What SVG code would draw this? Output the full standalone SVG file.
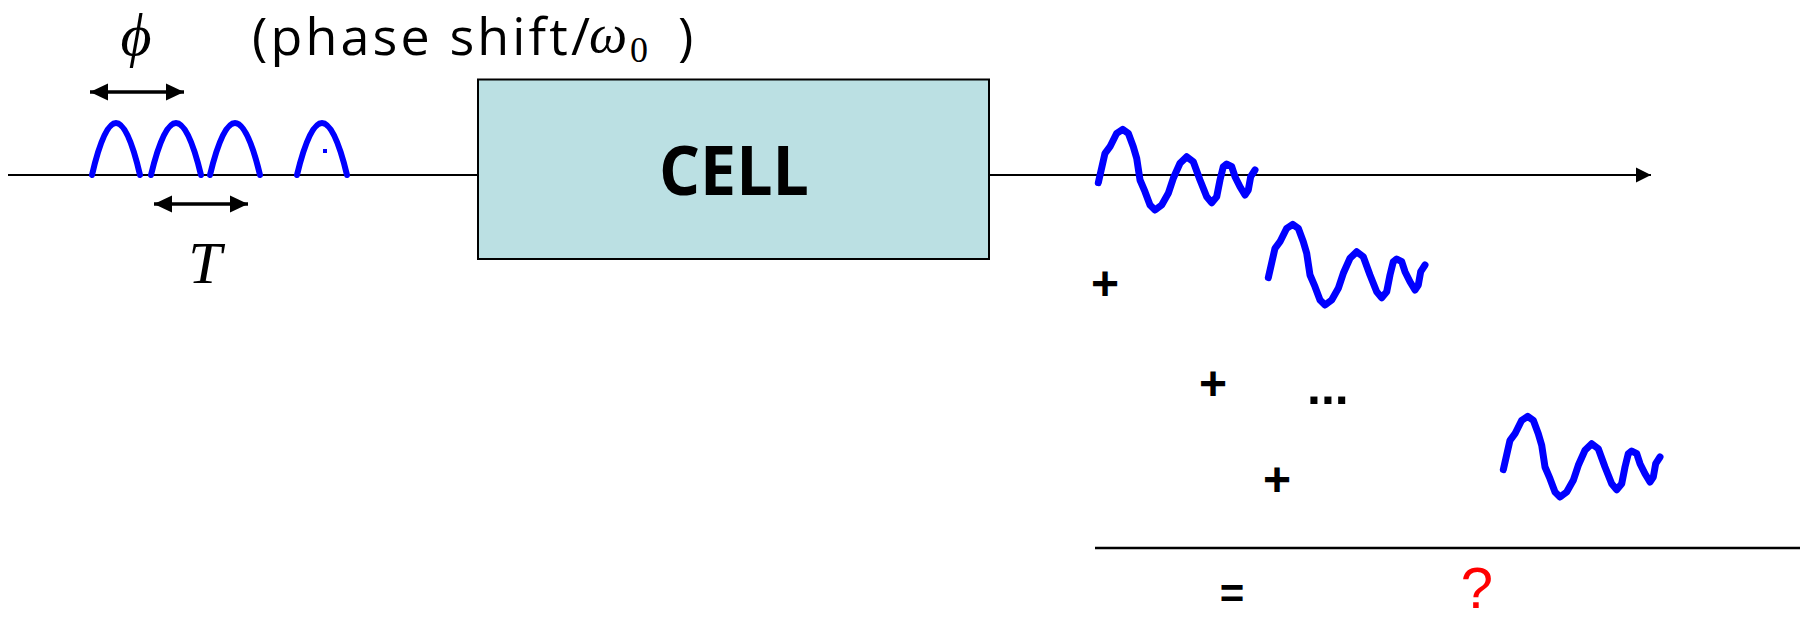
<svg xmlns="http://www.w3.org/2000/svg" xmlns:xlink="http://www.w3.org/1999/xlink" width="1806" height="617" viewBox="0 0 1806 617">
  <style>
    .comic { font-family: 'Open Sans', 'DejaVu Sans', sans-serif; fill: #000; }
    .math { font-family: 'Liberation Serif', 'DejaVu Serif', serif; font-style: italic; fill: #000; }
    .mathup { font-family: 'Liberation Serif', 'DejaVu Serif', serif; fill: #000; }
    .sym { font-family: 'Liberation Sans', Arial, sans-serif; font-weight: bold; fill: #000; }
    .pulse { fill: none; stroke: #0000FF; stroke-width: 6; stroke-linecap: round; }
    .wave { fill: none; stroke: #0000FF; stroke-width: 7; stroke-linecap: round; stroke-linejoin: round; }
    .line { fill: none; stroke: #000; stroke-width: 2; }
    .dbl { fill: none; stroke: #000; stroke-width: 3.5; }
  </style>
  <defs>
    <marker id="head" markerUnits="userSpaceOnUse" markerWidth="16" markerHeight="16" refX="15" refY="8" orient="auto">
      <path d="M0,0.5 L15,8 L0,15.5 Z" fill="#000"/>
    </marker>
    <marker id="dhead" markerUnits="userSpaceOnUse" markerWidth="20" markerHeight="20" refX="18" refY="9" orient="auto-start-reverse">
      <path d="M0,0.5 L18,9 L0,17.5 Z" fill="#000"/>
    </marker>
    <path id="wv" class="wave" d="M1098.3,182.7 L1105,153.3 L1110,146.7 L1116.7,133.3 L1122.7,129.3 L1128.3,133.3 L1133.3,146.7 L1136.7,158.3 L1140,180 L1145,191.7 L1150,205 L1155,210 L1161.7,205 L1168.3,193.3 L1173.3,178.3 L1180,163.3 L1186.7,156.7 L1193.3,161.7 L1200,180 L1206.7,196.7 L1211.7,202.7 L1216.7,196.7 L1220,180 L1223.3,166.7 L1226.7,164 L1231.7,166.7 L1235,176.7 L1240,186.7 L1245,195 L1248.3,190 L1250.7,176.7 L1255,170"/>
  </defs>
  <rect width="1806" height="617" fill="#fff"/>

  <g id="connectors">
    <line class="line" x1="8" y1="175" x2="478" y2="175"/>
    <line class="line" x1="989" y1="175" x2="1651" y2="175" marker-end="url(#head)"/>
    <line class="dbl" x1="90" y1="92" x2="184" y2="92" marker-start="url(#dhead)" marker-end="url(#dhead)"/>
    <line class="dbl" x1="154" y1="204" x2="248" y2="204" marker-start="url(#dhead)" marker-end="url(#dhead)"/>
    <line x1="1095" y1="548" x2="1800" y2="548" stroke="#000" stroke-width="2.5"/>
  </g>

  <g id="input-pulses">
    <path class="pulse" d="M92,175 Q116,71 140,175"/>
    <path class="pulse" d="M151,175 Q176,71 201,175"/>
    <path class="pulse" d="M210,175 Q235,71 260,175"/>
    <path class="pulse" d="M297,175 Q322,71 347,175"/>
    <rect x="323" y="149" width="4" height="4" fill="#0000FF"/>
  </g>

  <g id="labels">
    <text class="math" x="136" y="55" font-size="60" text-anchor="middle">ϕ</text>
    <text class="comic" x="252" y="55" font-size="52" textLength="338" lengthAdjust="spacing">(phase shift/</text>
    <text class="math" x="589" y="52" font-size="54">ω</text>
    <text class="mathup" x="630" y="62" font-size="36">0</text>
    <text class="comic" x="678" y="55" font-size="52">)</text>
    <text class="math" x="205" y="283" font-size="60" text-anchor="middle">T</text>
  </g>

  <g id="cell">
    <rect x="478" y="79.5" width="511" height="179.5" fill="#BBE0E3" stroke="#000" stroke-width="2"/>
    <text class="comic" x="734" y="195" font-size="68" font-weight="bold" text-anchor="middle" textLength="150" lengthAdjust="spacingAndGlyphs">CELL</text>
  </g>

  <g id="output-waves">
    <use xlink:href="#wv"/>
    <use xlink:href="#wv" transform="translate(170,95)"/>
    <use xlink:href="#wv" transform="translate(405,287)"/>
  </g>

  <g id="sum">
    <text class="sym" x="1105" y="300" font-size="48" text-anchor="middle">+</text>
    <text class="sym" x="1213" y="400" font-size="48" text-anchor="middle">+</text>
    <text class="sym" x="1277" y="496" font-size="48" text-anchor="middle">+</text>
    <text class="sym" x="1307" y="404" font-size="50">...</text>
    <text class="sym" x="1232" y="608" font-size="42" text-anchor="middle">=</text>
    <text x="1477" y="608" font-family="'Liberation Sans', Arial, sans-serif" font-size="58" fill="#FF0000" text-anchor="middle">?</text>
  </g>
</svg>
